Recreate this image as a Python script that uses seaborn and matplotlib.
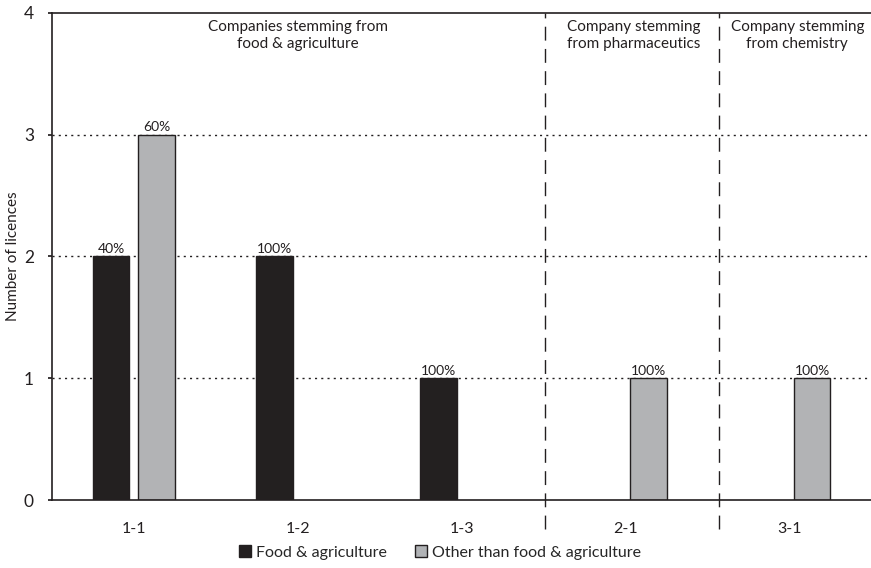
import pandas as pd
import seaborn as sns
import matplotlib.pyplot as plt
from matplotlib.patches import Patch

# data
companies = ["1-1", "1-2", "1-3", "2-1", "3-1"]
food_vals = [2, 2, 1, 0, 0]
other_vals = [3, 0, 0, 1, 1]
food_pct = ["40%", "100%", "100%", "", ""]
other_pct = ["60%", "", "", "100%", "100%"]
series = ["Food & agriculture", "Other than food & agriculture"]
group_labels = ["Companies stemming from\nfood & agriculture",
                "Company stemming\nfrom pharmaceutics",
                "Company stemming\nfrom chemistry"]
group_centres = [1, 3.05, 4.05]
dividers = [2.51, 3.57]

colors = {series[0]: "#231f20", series[1]: "#b1b3b6"}

rows = []
for c, v, p in zip(companies, food_vals, food_pct):
    if v > 0:
        rows.append([c, series[0], v, p])
for c, v, p in zip(companies, other_vals, other_pct):
    if v > 0:
        rows.append([c, series[1], v, p])
df = pd.DataFrame(rows, columns=["company", "type", "licences", "pct"])

sns.set_theme(style="white")
plt.rcParams['font.family'] = ['Lato', 'DejaVu Sans']

fig = plt.figure(figsize=(8.71, 5.68), dpi=100)
ax = fig.add_axes([0.0597, 0.1197, 0.9403, 0.8575])

sns.barplot(data=df, x="company", y="licences", hue="type", order=companies,
            hue_order=series, palette=colors, width=0.56, gap=0.2,
            edgecolor="#231f20", linewidth=1, ax=ax, legend=False)

# percentage labels
for cont, h in zip(ax.containers, series):
    sub = df[df["type"] == h].set_index("company")
    labels = [sub.loc[c, "pct"] for c in companies if c in sub.index]
    ax.bar_label(cont, labels=labels, padding=1, fontsize=10, color="#231f20")

ax.set_xlim(-0.5, 4.5)
ax.set_ylim(0, 4)
ax.set_yticks([0, 1, 2, 3, 4])
for y in [1, 2, 3]:
    ax.axhline(y, color="#231f20", linestyle=(0, (1.5, 3)), linewidth=1, zorder=0)
for x in dividers:
    ax.axvline(x, ymin=-0.06, ymax=1.0, color="#231f20", linestyle=(0, (10, 6)),
               linewidth=1, clip_on=False)

for x, t in zip(group_centres, group_labels):
    ax.text(x, 3.94, t, ha="center", va="top", fontsize=11, color="#231f20",
            linespacing=1.25)

ax.set_xlabel("")
ax.set_ylabel("Number of licences", fontsize=11, color="#231f20", labelpad=3)
ax.tick_params(axis="x", length=0, pad=16, labelsize=11.5, colors="#231f20")
ax.tick_params(axis="y", length=3, direction="out", left=True, pad=10,
               labelsize=12.5, colors="#231f20")

for s in ["left", "bottom", "top"]:
    ax.spines[s].set_color("#231f20")
    ax.spines[s].set_linewidth(1.2)
ax.spines["right"].set_visible(False)

handles = [Patch(facecolor=colors[s], edgecolor="#231f20", label=s) for s in series]
fig.legend(handles=handles, loc="center", bbox_to_anchor=(0.505, 0.027), ncol=2,
           frameon=False, fontsize=11.5, handlelength=0.75, handleheight=0.75,
           handletextpad=0.3, columnspacing=1.8)

fig.savefig("out.png", dpi=100)
